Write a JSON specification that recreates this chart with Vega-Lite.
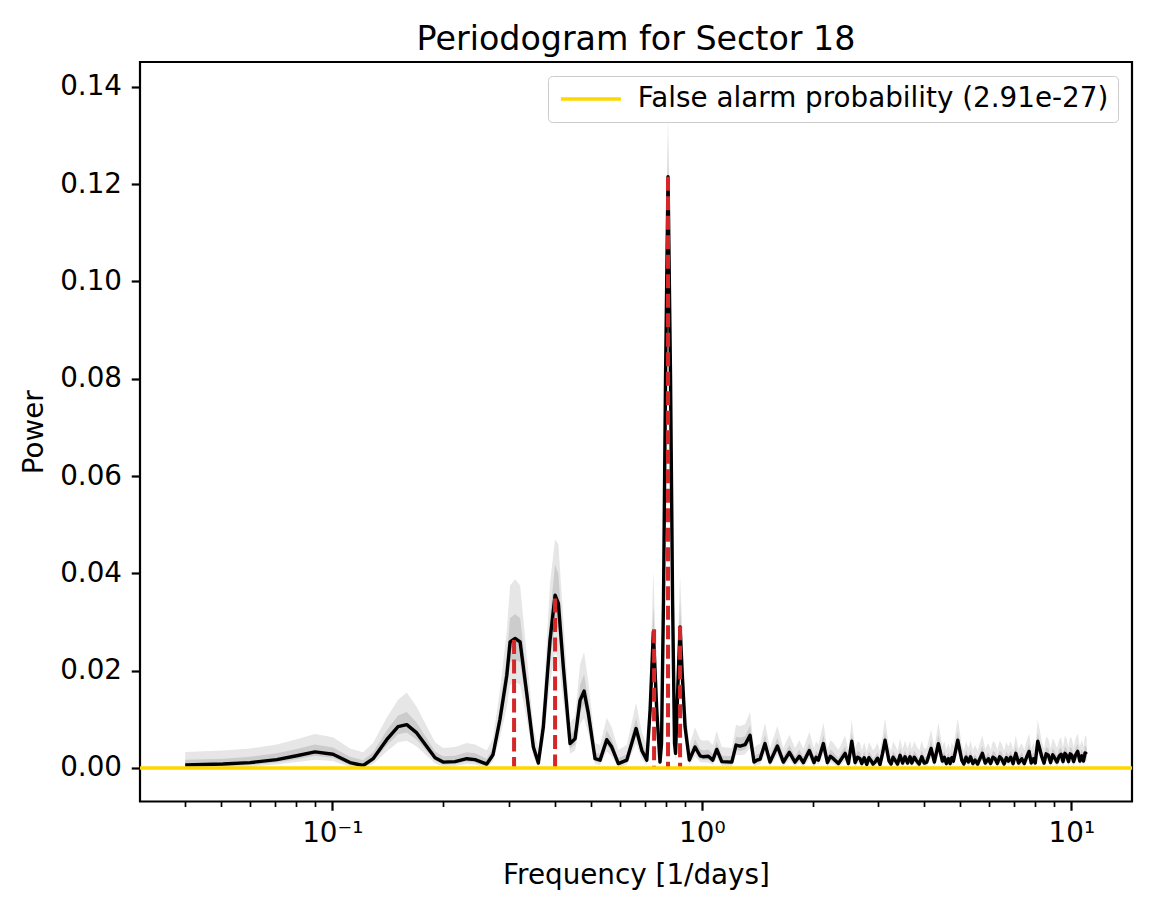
{
  "$schema": "https://vega.github.io/schema/vega-lite/v6.json",
  "width": 992,
  "height": 739.5,
  "autosize": {"type": "none"},
  "padding": {"left": 140, "top": 62, "right": 20, "bottom": 112.5},
  "title": {"text": "Periodogram for Sector 18", "fontSize": 33.3, "fontWeight": "normal", "font": "DejaVu Sans", "anchor": "middle", "baseline": "bottom", "offset": 10, "dy": 38, "color": "black"},
  "config": {
    "font": "DejaVu Sans",
    "view": {"stroke": "black", "strokeWidth": 2.2},
    "axis": {"domain": false, "grid": false, "labelFontSize": 27.8, "titleFontSize": 27.8, "labelFont": "DejaVu Sans", "titleFont": "DejaVu Sans", "labelColor": "black", "titleColor": "black", "tickColor": "black", "titleFontWeight": "normal", "labelFlush": false, "labelOverlap": false}
  },
  "datasets": {
    "periodogram": [
      {"freq":0.0400,"power":0.0006,"lo2":0,"lo1":0.0002,"hi1":0.0017,"hi2":0.0033},
      {"freq":0.0506,"power":0.0008,"lo2":0,"lo1":0.0004,"hi1":0.0019,"hi2":0.0036},
      {"freq":0.0599,"power":0.0011,"lo2":0.0002,"lo1":0.0006,"hi1":0.0023,"hi2":0.0040},
      {"freq":0.0708,"power":0.0017,"lo2":0.0007,"lo1":0.0011,"hi1":0.0030,"hi2":0.0048},
      {"freq":0.0801,"power":0.0025,"lo2":0.0012,"lo1":0.0018,"hi1":0.0039,"hi2":0.0059},
      {"freq":0.0898,"power":0.0033,"lo2":0.0017,"lo1":0.0025,"hi1":0.0048,"hi2":0.0070},
      {"freq":0.1005,"power":0.0028,"lo2":0.0014,"lo1":0.0021,"hi1":0.0042,"hi2":0.0063},
      {"freq":0.1117,"power":0.0011,"lo2":0.0002,"lo1":0.0006,"hi1":0.0023,"hi2":0.0040},
      {"freq":0.1212,"power":0.0005,"lo2":0,"lo1":0.0001,"hi1":0.0016,"hi2":0.0032},
      {"freq":0.1290,"power":0.0019,"lo2":0.0008,"lo1":0.0013,"hi1":0.0032,"hi2":0.0051},
      {"freq":0.1404,"power":0.0058,"lo2":0.0034,"lo1":0.0046,"hi1":0.0077,"hi2":0.0103},
      {"freq":0.1507,"power":0.0085,"lo2":0.0053,"lo1":0.0069,"hi1":0.0108,"hi2":0.0140},
      {"freq":0.1591,"power":0.0089,"lo2":0.0056,"lo1":0.0073,"hi1":0.0115,"hi2":0.0155},
      {"freq":0.1693,"power":0.0072,"lo2":0.0044,"lo1":0.0058,"hi1":0.0093,"hi2":0.0125},
      {"freq":0.1898,"power":0.0021,"lo2":0.0009,"lo1":0.0015,"hi1":0.0034,"hi2":0.0053},
      {"freq":0.1995,"power":0.0012,"lo2":0.0003,"lo1":0.0007,"hi1":0.0024,"hi2":0.0041},
      {"freq":0.2149,"power":0.0013,"lo2":0.0004,"lo1":0.0008,"hi1":0.0025,"hi2":0.0043},
      {"freq":0.2312,"power":0.0019,"lo2":0.0008,"lo1":0.0013,"hi1":0.0032,"hi2":0.0051},
      {"freq":0.2434,"power":0.0017,"lo2":0.0007,"lo1":0.0011,"hi1":0.0030,"hi2":0.0048},
      {"freq":0.2619,"power":0.0008,"lo2":0,"lo1":0.0004,"hi1":0.0019,"hi2":0.0036},
      {"freq":0.2723,"power":0.0027,"lo2":0.0013,"lo1":0.0020,"hi1":0.0041,"hi2":0.0061},
      {"freq":0.2844,"power":0.0100,"lo2":0.0063,"lo1":0.0082,"hi1":0.0125,"hi2":0.0160},
      {"freq":0.2967,"power":0.0190,"lo2":0.0124,"lo1":0.0159,"hi1":0.0229,"hi2":0.0282},
      {"freq":0.3029,"power":0.0259,"lo2":0.0171,"lo1":0.0217,"hi1":0.0308,"hi2":0.0375},
      {"freq":0.3125,"power":0.0266,"lo2":0.0176,"lo1":0.0223,"hi1":0.0316,"hi2":0.0388},
      {"freq":0.3224,"power":0.0259,"lo2":0.0171,"lo1":0.0217,"hi1":0.0308,"hi2":0.0375},
      {"freq":0.3360,"power":0.0153,"lo2":0.0099,"lo1":0.0127,"hi1":0.0186,"hi2":0.0232},
      {"freq":0.3501,"power":0.0043,"lo2":0.0024,"lo1":0.0034,"hi1":0.0059,"hi2":0.0083},
      {"freq":0.3612,"power":0.0010,"lo2":0.0002,"lo1":0.0006,"hi1":0.0022,"hi2":0.0039},
      {"freq":0.3726,"power":0.0084,"lo2":0.0052,"lo1":0.0068,"hi1":0.0107,"hi2":0.0138},
      {"freq":0.3885,"power":0.0263,"lo2":0.0174,"lo1":0.0221,"hi1":0.0312,"hi2":0.0380},
      {"freq":0.4009,"power":0.0355,"lo2":0.0236,"lo1":0.0299,"hi1":0.0418,"hi2":0.0470},
      {"freq":0.4092,"power":0.0338,"lo2":0.0225,"lo1":0.0284,"hi1":0.0399,"hi2":0.0460},
      {"freq":0.4220,"power":0.0208,"lo2":0.0136,"lo1":0.0174,"hi1":0.0249,"hi2":0.0306},
      {"freq":0.4401,"power":0.0050,"lo2":0.0029,"lo1":0.0040,"hi1":0.0068,"hi2":0.0093},
      {"freq":0.4541,"power":0.0060,"lo2":0.0036,"lo1":0.0048,"hi1":0.0079,"hi2":0.0106},
      {"freq":0.4684,"power":0.0139,"lo2":0.0090,"lo1":0.0115,"hi1":0.0170,"hi2":0.0213},
      {"freq":0.4803,"power":0.0158,"lo2":0.0102,"lo1":0.0131,"hi1":0.0192,"hi2":0.0238},
      {"freq":0.4933,"power":0.0112,"lo2":0.0071,"lo1":0.0092,"hi1":0.0139,"hi2":0.0176},
      {"freq":0.5143,"power":0.0019,"lo2":0.0008,"lo1":0.0013,"hi1":0.0032,"hi2":0.0051},
      {"freq":0.5306,"power":0.0016,"lo2":0.0006,"lo1":0.0011,"hi1":0.0028,"hi2":0.0047},
      {"freq":0.5532,"power":0.0058,"lo2":0.0034,"lo1":0.0046,"hi1":0.0077,"hi2":0.0103},
      {"freq":0.5707,"power":0.0043,"lo2":0.0024,"lo1":0.0034,"hi1":0.0059,"hi2":0.0083},
      {"freq":0.5946,"power":0.0009,"lo2":0.0001,"lo1":0.0005,"hi1":0.0020,"hi2":0.0037},
      {"freq":0.6266,"power":0.0016,"lo2":0.0006,"lo1":0.0011,"hi1":0.0028,"hi2":0.0047},
      {"freq":0.6642,"power":0.0081,"lo2":0.0050,"lo1":0.0066,"hi1":0.0103,"hi2":0.0134},
      {"freq":0.6882,"power":0.0036,"lo2":0.0019,"lo1":0.0028,"hi1":0.0051,"hi2":0.0074},
      {"freq":0.7101,"power":0.0016,"lo2":0.0006,"lo1":0.0011,"hi1":0.0028,"hi2":0.0047},
      {"freq":0.7248,"power":0.0119,"lo2":0.0076,"lo1":0.0098,"hi1":0.0147,"hi2":0.0186},
      {"freq":0.7396,"power":0.0280,"lo2":0.0185,"lo1":0.0235,"hi1":0.0332,"hi2":0.0405},
      {"freq":0.7554,"power":0.0119,"lo2":0.0076,"lo1":0.0098,"hi1":0.0147,"hi2":0.0186},
      {"freq":0.7709,"power":0.0012,"lo2":0.0003,"lo1":0.0007,"hi1":0.0024,"hi2":0.0041},
      {"freq":0.7782,"power":0.0050,"lo2":0.0029,"lo1":0.0040,"hi1":0.0068,"hi2":0.0093},
      {"freq":0.7880,"power":0.0350,"lo2":0.0233,"lo1":0.0295,"hi1":0.0413,"hi2":0.0460},
      {"freq":0.7979,"power":0.0800,"lo2":0.0660,"lo1":0.0720,"hi1":0.0880,"hi2":0.0920},
      {"freq":0.8104,"power":0.1215,"lo2":0.1050,"lo1":0.1130,"hi1":0.1300,"hi2":0.1360},
      {"freq":0.8232,"power":0.0800,"lo2":0.0660,"lo1":0.0720,"hi1":0.0880,"hi2":0.0920},
      {"freq":0.8335,"power":0.0350,"lo2":0.0233,"lo1":0.0295,"hi1":0.0413,"hi2":0.0460},
      {"freq":0.8440,"power":0.0050,"lo2":0.0029,"lo1":0.0040,"hi1":0.0068,"hi2":0.0093},
      {"freq":0.8493,"power":0.0030,"lo2":0.0015,"lo1":0.0023,"hi1":0.0045,"hi2":0.0066},
      {"freq":0.8627,"power":0.0180,"lo2":0.0117,"lo1":0.0150,"hi1":0.0217,"hi2":0.0268},
      {"freq":0.8736,"power":0.0290,"lo2":0.0192,"lo1":0.0244,"hi1":0.0344,"hi2":0.0395},
      {"freq":0.8845,"power":0.0200,"lo2":0.0131,"lo1":0.0167,"hi1":0.0240,"hi2":0.0295},
      {"freq":0.9012,"power":0.0084,"lo2":0.0052,"lo1":0.0068,"hi1":0.0107,"hi2":0.0138},
      {"freq":0.9256,"power":0.0016,"lo2":0.0006,"lo1":0.0011,"hi1":0.0028,"hi2":0.0047},
      {"freq":0.9591,"power":0.0043,"lo2":0.0024,"lo1":0.0034,"hi1":0.0059,"hi2":0.0083},
      {"freq":0.9895,"power":0.0025,"lo2":0.0012,"lo1":0.0018,"hi1":0.0039,"hi2":0.0059},
      {"freq":1.008,"power":0.0023,"lo2":0.0011,"lo1":0.0017,"hi1":0.0036,"hi2":0.0056},
      {"freq":1.042,"power":0.0024,"lo2":0.0011,"lo1":0.0017,"hi1":0.0038,"hi2":0.0057},
      {"freq":1.071,"power":0.0016,"lo2":0.0006,"lo1":0.0011,"hi1":0.0028,"hi2":0.0047},
      {"freq":1.098,"power":0.0038,"lo2":0.0021,"lo1":0.0029,"hi1":0.0054,"hi2":0.0076},
      {"freq":1.133,"power":0.0013,"lo2":0.0004,"lo1":0.0008,"hi1":0.0025,"hi2":0.0043},
      {"freq":1.206,"power":0.0012,"lo2":0.0003,"lo1":0.0007,"hi1":0.0024,"hi2":0.0041},
      {"freq":1.238,"power":0.0047,"lo2":0.0027,"lo1":0.0037,"hi1":0.0064,"hi2":0.0088},
      {"freq":1.270,"power":0.0045,"lo2":0.0026,"lo1":0.0035,"hi1":0.0062,"hi2":0.0086},
      {"freq":1.310,"power":0.0048,"lo2":0.0028,"lo1":0.0038,"hi1":0.0065,"hi2":0.0090},
      {"freq":1.351,"power":0.0067,"lo2":0.0041,"lo1":0.0054,"hi1":0.0087,"hi2":0.0115},
      {"freq":1.385,"power":0.0012,"lo2":0.0003,"lo1":0.0007,"hi1":0.0024,"hi2":0.0041},
      {"freq":1.411,"power":0.0016,"lo2":0.0006,"lo1":0.0011,"hi1":0.0028,"hi2":0.0047},
      {"freq":1.438,"power":0.0018,"lo2":0.0007,"lo1":0.0012,"hi1":0.0031,"hi2":0.0049},
      {"freq":1.483,"power":0.0050,"lo2":0.0029,"lo1":0.0040,"hi1":0.0068,"hi2":0.0093},
      {"freq":1.530,"power":0.0012,"lo2":0.0003,"lo1":0.0007,"hi1":0.0024,"hi2":0.0041},
      {"freq":1.602,"power":0.0045,"lo2":0.0026,"lo1":0.0035,"hi1":0.0062,"hi2":0.0086},
      {"freq":1.663,"power":0.0012,"lo2":0.0003,"lo1":0.0007,"hi1":0.0024,"hi2":0.0041},
      {"freq":1.726,"power":0.0032,"lo2":0.0017,"lo1":0.0024,"hi1":0.0047,"hi2":0.0068},
      {"freq":1.788,"power":0.0012,"lo2":0.0003,"lo1":0.0007,"hi1":0.0024,"hi2":0.0041},
      {"freq":1.837,"power":0.0024,"lo2":0.0011,"lo1":0.0017,"hi1":0.0038,"hi2":0.0057},
      {"freq":1.884,"power":0.0011,"lo2":0.0002,"lo1":0.0006,"hi1":0.0023,"hi2":0.0040},
      {"freq":1.955,"power":0.0036,"lo2":0.0019,"lo1":0.0028,"hi1":0.0051,"hi2":0.0074},
      {"freq":2.013,"power":0.0011,"lo2":0.0002,"lo1":0.0006,"hi1":0.0023,"hi2":0.0040},
      {"freq":2.040,"power":0.0022,"lo2":0.0010,"lo1":0.0016,"hi1":0.0035,"hi2":0.0055},
      {"freq":2.068,"power":0.0016,"lo2":0.0006,"lo1":0.0011,"hi1":0.0028,"hi2":0.0047},
      {"freq":2.134,"power":0.0050,"lo2":0.0029,"lo1":0.0040,"hi1":0.0068,"hi2":0.0093},
      {"freq":2.188,"power":0.0011,"lo2":0.0002,"lo1":0.0006,"hi1":0.0023,"hi2":0.0040},
      {"freq":2.229,"power":0.0024,"lo2":0.0011,"lo1":0.0017,"hi1":0.0038,"hi2":0.0057},
      {"freq":2.271,"power":0.0019,"lo2":0.0008,"lo1":0.0013,"hi1":0.0032,"hi2":0.0051},
      {"freq":2.343,"power":0.0009,"lo2":0.0001,"lo1":0.0005,"hi1":0.0020,"hi2":0.0037},
      {"freq":2.443,"power":0.0030,"lo2":0.0015,"lo1":0.0023,"hi1":0.0045,"hi2":0.0066},
      {"freq":2.494,"power":0.0009,"lo2":0.0001,"lo1":0.0005,"hi1":0.0020,"hi2":0.0037},
      {"freq":2.547,"power":0.0055,"lo2":0.0032,"lo1":0.0044,"hi1":0.0073,"hi2":0.0099},
      {"freq":2.600,"power":0.0011,"lo2":0.0002,"lo1":0.0006,"hi1":0.0023,"hi2":0.0040},
      {"freq":2.641,"power":0.0022,"lo2":0.0010,"lo1":0.0016,"hi1":0.0035,"hi2":0.0055},
      {"freq":2.682,"power":0.0019,"lo2":0.0008,"lo1":0.0013,"hi1":0.0032,"hi2":0.0051},
      {"freq":2.710,"power":0.0009,"lo2":0.0001,"lo1":0.0005,"hi1":0.0020,"hi2":0.0037},
      {"freq":2.752,"power":0.0021,"lo2":0.0009,"lo1":0.0015,"hi1":0.0034,"hi2":0.0053},
      {"freq":2.796,"power":0.0007,"lo2":0,"lo1":0.0003,"hi1":0.0018,"hi2":0.0034},
      {"freq":2.834,"power":0.0021,"lo2":0.0009,"lo1":0.0015,"hi1":0.0034,"hi2":0.0053},
      {"freq":2.872,"power":0.0015,"lo2":0.0005,"lo1":0.0010,"hi1":0.0027,"hi2":0.0045},
      {"freq":2.908,"power":0.0008,"lo2":0,"lo1":0.0004,"hi1":0.0019,"hi2":0.0036},
      {"freq":2.944,"power":0.0012,"lo2":0.0003,"lo1":0.0007,"hi1":0.0024,"hi2":0.0041},
      {"freq":2.990,"power":0.0020,"lo2":0.0009,"lo1":0.0014,"hi1":0.0033,"hi2":0.0052},
      {"freq":3.037,"power":0.0007,"lo2":0,"lo1":0.0003,"hi1":0.0018,"hi2":0.0034},
      {"freq":3.085,"power":0.0030,"lo2":0.0015,"lo1":0.0023,"hi1":0.0045,"hi2":0.0066},
      {"freq":3.134,"power":0.0057,"lo2":0.0034,"lo1":0.0045,"hi1":0.0076,"hi2":0.0102},
      {"freq":3.213,"power":0.0014,"lo2":0.0005,"lo1":0.0009,"hi1":0.0026,"hi2":0.0044},
      {"freq":3.254,"power":0.0008,"lo2":0,"lo1":0.0004,"hi1":0.0019,"hi2":0.0036},
      {"freq":3.294,"power":0.0022,"lo2":0.0010,"lo1":0.0016,"hi1":0.0035,"hi2":0.0055},
      {"freq":3.335,"power":0.0016,"lo2":0.0006,"lo1":0.0011,"hi1":0.0028,"hi2":0.0047},
      {"freq":3.388,"power":0.0008,"lo2":0,"lo1":0.0004,"hi1":0.0019,"hi2":0.0036},
      {"freq":3.441,"power":0.0026,"lo2":0.0013,"lo1":0.0019,"hi1":0.0040,"hi2":0.0060},
      {"freq":3.495,"power":0.0010,"lo2":0.0002,"lo1":0.0006,"hi1":0.0022,"hi2":0.0039},
      {"freq":3.549,"power":0.0023,"lo2":0.0011,"lo1":0.0017,"hi1":0.0036,"hi2":0.0056},
      {"freq":3.605,"power":0.0010,"lo2":0.0002,"lo1":0.0006,"hi1":0.0022,"hi2":0.0039},
      {"freq":3.662,"power":0.0023,"lo2":0.0011,"lo1":0.0017,"hi1":0.0036,"hi2":0.0056},
      {"freq":3.700,"power":0.0010,"lo2":0.0002,"lo1":0.0006,"hi1":0.0022,"hi2":0.0039},
      {"freq":3.760,"power":0.0022,"lo2":0.0010,"lo1":0.0016,"hi1":0.0035,"hi2":0.0055},
      {"freq":3.818,"power":0.0014,"lo2":0.0005,"lo1":0.0009,"hi1":0.0026,"hi2":0.0044},
      {"freq":3.878,"power":0.0008,"lo2":0,"lo1":0.0004,"hi1":0.0019,"hi2":0.0036},
      {"freq":3.939,"power":0.0023,"lo2":0.0011,"lo1":0.0017,"hi1":0.0036,"hi2":0.0056},
      {"freq":4.000,"power":0.0010,"lo2":0.0002,"lo1":0.0006,"hi1":0.0022,"hi2":0.0039},
      {"freq":4.064,"power":0.0012,"lo2":0.0003,"lo1":0.0007,"hi1":0.0024,"hi2":0.0041},
      {"freq":4.175,"power":0.0040,"lo2":0.0022,"lo1":0.0031,"hi1":0.0056,"hi2":0.0079},
      {"freq":4.261,"power":0.0012,"lo2":0.0003,"lo1":0.0007,"hi1":0.0024,"hi2":0.0041},
      {"freq":4.369,"power":0.0050,"lo2":0.0029,"lo1":0.0040,"hi1":0.0068,"hi2":0.0093},
      {"freq":4.479,"power":0.0014,"lo2":0.0005,"lo1":0.0009,"hi1":0.0026,"hi2":0.0044},
      {"freq":4.535,"power":0.0022,"lo2":0.0010,"lo1":0.0016,"hi1":0.0035,"hi2":0.0055},
      {"freq":4.592,"power":0.0009,"lo2":0.0001,"lo1":0.0005,"hi1":0.0020,"hi2":0.0037},
      {"freq":4.650,"power":0.0019,"lo2":0.0008,"lo1":0.0013,"hi1":0.0032,"hi2":0.0051},
      {"freq":4.700,"power":0.0009,"lo2":0.0001,"lo1":0.0005,"hi1":0.0020,"hi2":0.0037},
      {"freq":4.750,"power":0.0021,"lo2":0.0009,"lo1":0.0015,"hi1":0.0034,"hi2":0.0053},
      {"freq":4.797,"power":0.0014,"lo2":0.0005,"lo1":0.0009,"hi1":0.0026,"hi2":0.0044},
      {"freq":4.930,"power":0.0057,"lo2":0.0034,"lo1":0.0045,"hi1":0.0076,"hi2":0.0102},
      {"freq":5.054,"power":0.0016,"lo2":0.0006,"lo1":0.0011,"hi1":0.0028,"hi2":0.0047},
      {"freq":5.120,"power":0.0008,"lo2":0,"lo1":0.0004,"hi1":0.0019,"hi2":0.0036},
      {"freq":5.190,"power":0.0022,"lo2":0.0010,"lo1":0.0016,"hi1":0.0035,"hi2":0.0055},
      {"freq":5.266,"power":0.0012,"lo2":0.0003,"lo1":0.0007,"hi1":0.0024,"hi2":0.0041},
      {"freq":5.340,"power":0.0023,"lo2":0.0011,"lo1":0.0017,"hi1":0.0036,"hi2":0.0056},
      {"freq":5.415,"power":0.0009,"lo2":0.0001,"lo1":0.0005,"hi1":0.0020,"hi2":0.0037},
      {"freq":5.492,"power":0.0016,"lo2":0.0006,"lo1":0.0011,"hi1":0.0028,"hi2":0.0047},
      {"freq":5.580,"power":0.0008,"lo2":0,"lo1":0.0004,"hi1":0.0019,"hi2":0.0036},
      {"freq":5.660,"power":0.0019,"lo2":0.0008,"lo1":0.0013,"hi1":0.0032,"hi2":0.0051},
      {"freq":5.747,"power":0.0030,"lo2":0.0015,"lo1":0.0023,"hi1":0.0045,"hi2":0.0066},
      {"freq":5.850,"power":0.0010,"lo2":0.0002,"lo1":0.0006,"hi1":0.0022,"hi2":0.0039},
      {"freq":5.966,"power":0.0019,"lo2":0.0008,"lo1":0.0013,"hi1":0.0032,"hi2":0.0051},
      {"freq":6.050,"power":0.0009,"lo2":0.0001,"lo1":0.0005,"hi1":0.0020,"hi2":0.0037},
      {"freq":6.135,"power":0.0022,"lo2":0.0010,"lo1":0.0016,"hi1":0.0035,"hi2":0.0055},
      {"freq":6.221,"power":0.0019,"lo2":0.0008,"lo1":0.0013,"hi1":0.0032,"hi2":0.0051},
      {"freq":6.310,"power":0.0009,"lo2":0.0001,"lo1":0.0005,"hi1":0.0020,"hi2":0.0037},
      {"freq":6.400,"power":0.0023,"lo2":0.0011,"lo1":0.0017,"hi1":0.0036,"hi2":0.0056},
      {"freq":6.486,"power":0.0018,"lo2":0.0007,"lo1":0.0012,"hi1":0.0031,"hi2":0.0049},
      {"freq":6.580,"power":0.0008,"lo2":0,"lo1":0.0004,"hi1":0.0019,"hi2":0.0036},
      {"freq":6.670,"power":0.0021,"lo2":0.0009,"lo1":0.0015,"hi1":0.0034,"hi2":0.0053},
      {"freq":6.759,"power":0.0014,"lo2":0.0005,"lo1":0.0009,"hi1":0.0026,"hi2":0.0044},
      {"freq":6.860,"power":0.0022,"lo2":0.0010,"lo1":0.0016,"hi1":0.0035,"hi2":0.0055},
      {"freq":6.960,"power":0.0009,"lo2":0.0001,"lo1":0.0005,"hi1":0.0020,"hi2":0.0037},
      {"freq":7.077,"power":0.0030,"lo2":0.0015,"lo1":0.0023,"hi1":0.0045,"hi2":0.0066},
      {"freq":7.200,"power":0.0010,"lo2":0.0002,"lo1":0.0006,"hi1":0.0022,"hi2":0.0039},
      {"freq":7.345,"power":0.0019,"lo2":0.0008,"lo1":0.0013,"hi1":0.0032,"hi2":0.0051},
      {"freq":7.460,"power":0.0009,"lo2":0.0001,"lo1":0.0005,"hi1":0.0020,"hi2":0.0037},
      {"freq":7.570,"power":0.0022,"lo2":0.0010,"lo1":0.0016,"hi1":0.0035,"hi2":0.0055},
      {"freq":7.688,"power":0.0034,"lo2":0.0018,"lo1":0.0026,"hi1":0.0049,"hi2":0.0071},
      {"freq":7.790,"power":0.0010,"lo2":0.0002,"lo1":0.0006,"hi1":0.0022,"hi2":0.0039},
      {"freq":7.896,"power":0.0019,"lo2":0.0008,"lo1":0.0013,"hi1":0.0032,"hi2":0.0051},
      {"freq":7.990,"power":0.0010,"lo2":0.0002,"lo1":0.0006,"hi1":0.0022,"hi2":0.0039},
      {"freq":8.115,"power":0.0055,"lo2":0.0032,"lo1":0.0044,"hi1":0.0073,"hi2":0.0099},
      {"freq":8.321,"power":0.0023,"lo2":0.0011,"lo1":0.0017,"hi1":0.0036,"hi2":0.0056},
      {"freq":8.440,"power":0.0010,"lo2":0.0002,"lo1":0.0006,"hi1":0.0022,"hi2":0.0039},
      {"freq":8.550,"power":0.0029,"lo2":0.0015,"lo1":0.0022,"hi1":0.0043,"hi2":0.0064},
      {"freq":8.670,"power":0.0026,"lo2":0.0013,"lo1":0.0019,"hi1":0.0040,"hi2":0.0060},
      {"freq":8.790,"power":0.0011,"lo2":0.0002,"lo1":0.0006,"hi1":0.0023,"hi2":0.0040},
      {"freq":8.910,"power":0.0027,"lo2":0.0013,"lo1":0.0020,"hi1":0.0041,"hi2":0.0061},
      {"freq":9.041,"power":0.0019,"lo2":0.0008,"lo1":0.0013,"hi1":0.0032,"hi2":0.0051},
      {"freq":9.150,"power":0.0012,"lo2":0.0003,"lo1":0.0007,"hi1":0.0024,"hi2":0.0041},
      {"freq":9.270,"power":0.0024,"lo2":0.0011,"lo1":0.0017,"hi1":0.0038,"hi2":0.0057},
      {"freq":9.385,"power":0.0028,"lo2":0.0014,"lo1":0.0021,"hi1":0.0042,"hi2":0.0063},
      {"freq":9.500,"power":0.0013,"lo2":0.0004,"lo1":0.0008,"hi1":0.0025,"hi2":0.0043},
      {"freq":9.610,"power":0.0030,"lo2":0.0015,"lo1":0.0023,"hi1":0.0045,"hi2":0.0066},
      {"freq":9.723,"power":0.0025,"lo2":0.0012,"lo1":0.0018,"hi1":0.0039,"hi2":0.0059},
      {"freq":9.830,"power":0.0013,"lo2":0.0004,"lo1":0.0008,"hi1":0.0025,"hi2":0.0043},
      {"freq":9.930,"power":0.0029,"lo2":0.0015,"lo1":0.0022,"hi1":0.0043,"hi2":0.0064},
      {"freq":10.03,"power":0.0026,"lo2":0.0013,"lo1":0.0019,"hi1":0.0040,"hi2":0.0060},
      {"freq":10.15,"power":0.0013,"lo2":0.0004,"lo1":0.0008,"hi1":0.0025,"hi2":0.0043},
      {"freq":10.28,"power":0.0027,"lo2":0.0013,"lo1":0.0020,"hi1":0.0041,"hi2":0.0061},
      {"freq":10.41,"power":0.0034,"lo2":0.0018,"lo1":0.0026,"hi1":0.0049,"hi2":0.0071},
      {"freq":10.55,"power":0.0014,"lo2":0.0005,"lo1":0.0009,"hi1":0.0026,"hi2":0.0044},
      {"freq":10.68,"power":0.0025,"lo2":0.0012,"lo1":0.0018,"hi1":0.0039,"hi2":0.0059},
      {"freq":10.79,"power":0.0014,"lo2":0.0005,"lo1":0.0009,"hi1":0.0026,"hi2":0.0044},
      {"freq":10.90,"power":0.0031,"lo2":0.0016,"lo1":0.0023,"hi1":0.0046,"hi2":0.0067},
      {"freq":11.01,"power":0.0028,"lo2":0.0014,"lo1":0.0021,"hi1":0.0042,"hi2":0.0063}
    ],
    "peaks": [
      {"freq":0.3105,"power":0.0263},
      {"freq":0.4009,"power":0.0348},
      {"freq":0.7430,"power":0.0285},
      {"freq":0.8104,"power":0.1215},
      {"freq":0.8736,"power":0.0291}
    ],
    "fap": [
      {"level":2.91e-27,"label":"False alarm probability (2.91e-27)"}
    ]
  },
  "layer": [
    {
      "data": {"name": "periodogram"},
      "mark": {"type": "area", "color": "#e6e6e6", "opacity": 1},
      "encoding": {
        "x": {"field": "freq", "type": "quantitative", "title": "Frequency [1/days]",
              "scale": {"type": "log", "domain": [0.03018, 14.6], "nice": false},
              "axis": {"values": [0.04,0.05,0.06,0.07,0.08,0.09,0.1,0.2,0.3,0.4,0.5,0.6,0.7,0.8,0.9,1,2,3,4,5,6,7,8,9,10],
                       "labelExpr": "datum.value == 0.1 ? '10⁻¹' : datum.value == 1 ? '10⁰' : datum.value == 10 ? '10¹' : ''",
                       "tickSize": {"condition": {"test": "datum.value == 0.1 || datum.value == 1 || datum.value == 10", "value": 8.75}, "value": 5},
                       "tickWidth": {"condition": {"test": "datum.value == 0.1 || datum.value == 1 || datum.value == 10", "value": 2.2}, "value": 1.7},
                       "labelPadding": 9.7, "titlePadding": 14}},
        "y": {"field": "lo2", "type": "quantitative", "title": "Power",
              "scale": {"domain": [-0.0069, 0.1451], "nice": false, "zero": false},
              "axis": {"values": [0,0.02,0.04,0.06,0.08,0.1,0.12,0.14], "format": ".2f", "tickSize": 8.75, "tickWidth": 2.2, "labelPadding": 9.7, "titlePadding": 11}},
        "y2": {"field": "hi2"}
      }
    },
    {
      "data": {"name": "periodogram"},
      "mark": {"type": "area", "color": "#cccccc", "opacity": 1},
      "encoding": {
        "x": {"field": "freq", "type": "quantitative", "title": "Frequency [1/days]", "scale": {"type": "log", "domain": [0.03018, 14.6], "nice": false}},
        "y": {"field": "lo1", "type": "quantitative", "title": "Power", "scale": {"domain": [-0.0069, 0.1451], "nice": false, "zero": false}},
        "y2": {"field": "hi1"}
      }
    },
    {
      "data": {"name": "periodogram"},
      "mark": {"type": "line", "color": "black", "strokeWidth": 3.4, "strokeJoin": "round"},
      "encoding": {
        "x": {"field": "freq", "type": "quantitative", "title": "Frequency [1/days]", "scale": {"type": "log", "domain": [0.03018, 14.6], "nice": false}},
        "y": {"field": "power", "type": "quantitative", "title": "Power", "scale": {"domain": [-0.0069, 0.1451], "nice": false, "zero": false}}
      }
    },
    {
      "data": {"name": "peaks"},
      "mark": {"type": "rule", "color": "#d62728", "strokeWidth": 4, "strokeDash": [14, 5.5]},
      "encoding": {
        "x": {"field": "freq", "type": "quantitative", "title": "Frequency [1/days]", "scale": {"type": "log", "domain": [0.03018, 14.6], "nice": false}},
        "y": {"field": "power", "type": "quantitative", "title": "Power", "scale": {"domain": [-0.0069, 0.1451], "nice": false, "zero": false}},
        "y2": {"datum": 0}
      }
    },
    {
      "data": {"name": "fap"},
      "mark": {"type": "rule", "strokeWidth": 3.5},
      "encoding": {
        "y": {"field": "level", "type": "quantitative", "title": "Power", "scale": {"domain": [-0.0069, 0.1451], "nice": false, "zero": false}},
        "color": {"field": "label", "type": "nominal", "scale": {"range": ["#FFD700"]},
                  "legend": {"title": null, "orient": "top-right", "offset": 14, "symbolType": "M-3,0H3", "symbolSize": 400, "symbolStrokeWidth": 3.5, "symbolOffset": 20, "labelOffset": 33,
                             "labelFontSize": 27.8, "labelFont": "DejaVu Sans", "labelColor": "black", "labelLimit": 1000, "padding": 9,
                             "strokeColor": "#cccccc", "fillColor": "rgba(255,255,255,0.8)", "cornerRadius": 4}}
      }
    }
  ]
}
